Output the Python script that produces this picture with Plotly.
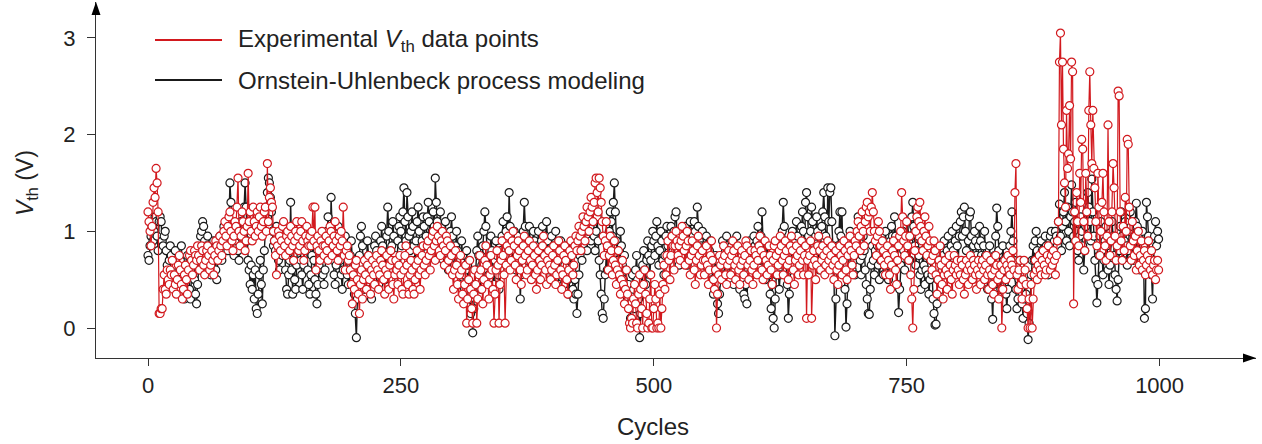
import numpy as np
import plotly.graph_objects as go

# Threshold voltage values, in units of 0.01 V (centivolts), one value per cycle 0..999
exp_vth_cV = [
120,110,100,85,105,130,145,135,165,150,120,15,15,20,20,40,55,40,35,60,50,45,60,55,70,
40,55,45,35,50,65,75,60,45,30,40,55,65,50,35,60,75,80,70,55,65,80,75,70,85,
75,60,70,85,80,65,55,70,80,85,75,60,65,80,70,55,75,90,85,70,80,95,85,75,90,
100,110,95,85,105,115,120,100,90,80,95,110,105,125,155,100,85,95,120,110,100,80,90,105,160,
110,120,100,90,125,110,95,105,120,100,115,125,105,95,110,120,125,100,170,110,135,145,130,125,100,
90,75,55,85,100,95,80,90,105,110,85,75,95,100,90,80,105,95,85,70,90,100,110,95,80,
85,100,110,90,70,80,95,105,90,85,95,85,100,125,90,125,60,85,95,80,70,90,100,85,75,
85,95,80,70,90,105,100,75,85,95,110,90,80,70,95,85,100,90,125,75,60,80,85,70,75,
60,45,25,55,40,65,70,50,35,15,45,60,30,50,70,55,40,65,75,50,35,60,70,55,45,
65,75,60,40,55,70,80,65,50,35,60,75,55,40,65,80,70,45,30,55,70,60,45,65,75,
55,40,35,60,75,85,65,45,35,55,70,60,40,35,50,65,80,70,55,40,60,75,85,65,55,
70,85,90,75,60,80,95,100,85,70,90,105,95,80,75,90,100,85,65,80,95,90,70,60,85,
75,55,40,60,80,65,45,30,55,75,60,35,25,45,65,5,30,50,70,40,20,5,35,60,45,
5,30,55,75,60,40,25,50,70,85,65,45,30,55,75,60,40,5,35,60,80,65,5,45,70,
90,75,55,5,65,85,95,80,60,70,90,100,85,65,50,75,90,80,60,45,70,85,95,75,55,
60,80,90,70,50,65,85,75,55,40,60,80,70,50,65,85,95,75,60,45,70,80,65,50,60,
75,85,65,45,55,70,90,80,60,40,55,75,85,70,50,35,60,80,90,75,55,65,85,95,80,
90,105,95,80,100,115,105,90,110,125,115,100,120,135,125,110,130,150,155,140,120,155,145,130,110,
95,75,90,110,85,60,75,95,80,55,70,90,65,45,60,80,55,35,50,70,45,25,40,60,35,
20,5,0,10,5,30,45,25,5,0,35,55,40,20,0,45,60,35,15,0,5,30,55,0,0,
20,45,30,0,5,0,35,0,20,45,65,40,55,75,90,70,50,75,95,85,60,85,100,90,75,
85,70,90,105,95,80,65,85,100,90,70,55,75,90,80,60,45,70,85,95,75,55,65,80,70,
55,70,85,65,45,60,75,90,70,50,40,60,0,35,55,75,65,50,70,85,75,55,45,65,80,
70,55,75,90,80,65,50,70,85,60,45,65,80,70,55,75,90,85,65,50,70,80,60,45,65,
80,75,55,70,85,95,80,60,50,75,90,70,55,65,85,75,60,45,70,85,90,75,55,65,80,
95,85,70,55,75,90,80,65,50,70,85,95,80,60,45,70,85,75,55,65,80,90,70,55,75,
85,10,70,55,75,90,10,65,80,70,50,65,85,95,80,60,70,85,75,55,65,80,90,70,60,
75,85,65,50,70,80,60,45,65,85,75,55,70,90,80,60,50,75,85,95,80,65,55,75,90,
85,100,110,95,80,105,120,100,85,110,125,130,115,120,100,125,140,120,100,90,75,95,110,100,85,
70,90,80,65,55,75,85,70,55,40,65,80,90,75,60,45,70,85,95,100,140,115,90,75,95,
110,85,70,95,55,30,0,40,80,100,115,125,110,130,105,90,80,100,115,95,75,85,105,90,70,
60,75,90,80,55,35,50,70,85,65,45,30,55,70,60,40,55,75,65,50,35,60,75,65,55,
70,60,45,55,70,65,50,35,55,70,60,45,65,75,60,50,70,65,55,40,60,70,55,45,65,
70,60,50,65,75,55,40,60,70,55,45,35,60,75,65,50,30,55,65,0,40,60,70,50,65,
75,60,55,70,65,80,60,140,170,55,40,60,70,45,30,50,70,60,45,20,0,30,0,45,0,
30,55,70,60,50,65,75,60,55,70,80,65,55,60,75,85,70,60,75,65,80,70,55,75,90,
110,275,305,210,275,185,150,125,225,165,180,230,175,275,265,25,120,90,140,110,85,160,130,195,185,
110,80,160,120,95,225,265,210,170,225,165,145,110,85,160,125,75,100,130,160,120,85,70,95,210,
110,75,90,120,170,145,95,70,85,245,240,120,90,70,105,80,135,100,195,190,125,85,70,110,90,
75,95,60,80,100,65,75,90,60,70,80,55,65,75,90,70,60,80,55,65,70,50,60,70,60,
]

ou_model_cV = [
75,70,85,95,105,90,100,115,110,95,80,110,115,110,90,85,95,100,80,65,55,70,85,75,60,
50,65,80,70,55,40,50,70,85,60,45,30,45,65,75,55,40,30,55,70,60,50,35,25,45,
60,80,95,100,110,105,90,75,85,95,80,70,55,65,80,90,75,60,50,70,85,95,80,70,90,
105,95,85,100,80,110,150,130,95,85,75,90,105,100,80,70,95,110,100,85,125,150,125,90,70,
60,45,65,40,55,30,60,20,15,35,55,70,45,25,60,80,110,125,140,155,150,135,120,100,85,
90,80,105,95,70,60,85,100,75,95,80,60,40,35,55,70,130,60,35,70,50,40,65,90,80,
95,70,55,40,65,85,100,80,60,45,35,55,75,90,70,50,35,25,45,65,80,95,75,55,45,
60,80,100,115,95,75,135,90,70,55,45,65,85,105,90,70,55,40,60,80,95,75,55,45,60,
75,90,70,50,35,15,-10,30,55,75,95,105,85,60,40,55,70,90,75,55,40,30,50,70,85,
95,80,60,45,70,90,105,85,65,50,75,95,125,100,80,60,85,110,95,75,55,70,90,105,115,
100,85,120,145,110,90,140,115,95,80,100,120,105,85,70,90,110,125,100,80,65,90,115,105,85,
95,115,130,110,90,75,100,120,105,155,130,110,90,100,120,95,80,70,95,110,85,70,60,80,100,
115,95,80,65,85,100,80,60,45,70,90,75,55,40,60,80,65,45,30,15,35,-5,20,45,60,
80,95,75,55,40,65,85,100,120,105,80,65,55,75,95,80,60,45,70,90,75,55,40,60,80,
95,110,90,75,100,115,90,140,105,80,65,85,100,80,60,75,95,70,30,55,80,100,130,105,85,
70,90,105,85,65,80,100,90,75,60,85,100,80,65,90,105,85,70,95,110,90,75,60,80,95,
80,65,85,100,75,60,45,70,90,80,60,45,65,85,70,50,35,55,75,60,40,30,50,35,15,
35,55,75,90,70,85,100,110,95,80,100,115,105,90,120,110,95,80,100,115,90,70,55,35,15,
10,30,55,75,60,85,100,120,110,95,130,150,120,90,70,55,80,100,85,65,50,75,60,40,30,
45,25,10,35,55,40,20,60,75,50,30,-10,15,40,65,80,60,45,70,90,75,55,70,85,100,
90,75,95,110,85,65,80,100,90,70,55,75,95,105,85,70,90,105,95,80,100,115,120,95,80,
65,85,100,90,75,95,105,80,65,85,100,110,90,75,95,110,100,85,125,105,90,70,85,100,80,
65,85,95,75,60,80,90,70,50,35,60,75,45,25,15,35,55,75,90,70,55,80,95,85,65,
50,70,85,65,45,60,80,95,75,55,40,60,75,50,35,30,45,25,55,75,90,70,55,80,95,
85,70,90,105,85,70,95,120,90,70,50,65,85,75,55,35,20,45,10,0,30,55,75,60,40,
55,80,100,130,105,85,70,45,10,35,60,85,100,80,65,90,110,95,75,60,85,105,120,100,80,
130,140,115,95,80,100,125,110,90,75,95,115,100,80,60,85,105,120,140,115,95,80,145,110,140,
145,110,85,60,-8,30,60,85,100,120,95,120,75,55,40,1,25,55,80,100,75,60,85,70,55,
75,95,115,90,70,55,75,95,80,60,45,30,15,14,40,65,85,70,55,80,100,85,65,50,70,
90,75,55,80,100,85,65,50,70,90,105,95,80,115,95,70,45,16,40,65,85,100,80,60,75,
95,110,90,70,95,115,130,105,85,65,80,95,75,55,40,60,80,65,45,60,75,55,35,50,70,
55,30,15,3,4,25,50,70,55,40,60,75,90,70,55,80,95,75,60,85,100,80,65,90,105,
85,70,95,110,120,95,115,125,100,80,65,90,115,120,95,70,85,100,90,75,60,85,105,90,75,
60,85,100,75,55,40,65,85,60,30,9,45,75,95,124,105,80,55,40,60,85,70,50,35,20,
40,65,85,100,120,90,70,55,40,20,30,50,70,45,25,10,30,55,35,15,-12,5,30,55,70,
85,70,90,100,80,65,55,75,90,80,60,75,95,85,70,55,80,95,100,85,75,90,100,95,85,
110,128,95,80,105,120,140,110,90,125,100,85,115,148,120,95,110,130,100,80,70,95,115,100,85,
60,80,105,120,140,125,110,90,154,120,95,70,50,26,45,75,95,110,80,55,70,90,105,85,60,
45,65,90,110,95,75,55,40,28,50,80,105,120,95,70,90,110,85,65,80,100,120,105,85,70,
95,110,129,105,90,75,60,80,100,85,10,20,130,115,95,75,60,55,30,70,95,110,85,100,92,
]

x_ticks = [0, 250, 500, 750, 1000]
y_ticks = [0, 1, 2, 3]
legend_labels = ["Experimental <i>V</i><sub>th</sub> data points",
                 "Ornstein-Uhlenbeck process modeling"]

exp_vth = np.array(exp_vth_cV) / 100.0
ou_model = np.array(ou_model_cV) / 100.0
cyc_exp = np.arange(len(exp_vth))
cyc_ou = np.arange(len(ou_model))

RED = "#d2191e"
BLACK = "#1a1a1a"
FONT = "Arial, Liberation Sans, Helvetica, sans-serif"
TXT = "#222"

fig = go.Figure()
fig.add_trace(go.Scatter(
    x=cyc_ou, y=ou_model, mode="lines+markers", name=legend_labels[1],
    line=dict(color=BLACK, width=1.4),
    marker=dict(symbol="circle", size=8, color="white",
                line=dict(color=BLACK, width=1.2)),
    showlegend=False))
fig.add_trace(go.Scatter(
    x=cyc_exp, y=exp_vth, mode="lines+markers", name=legend_labels[0],
    line=dict(color=RED, width=1.2),
    marker=dict(symbol="circle", size=8, color="white",
                line=dict(color=RED, width=1.2)),
    showlegend=False))

# plot area geometry (px): x 96..1256, y 2..358
L, R, T, B = 96, 1256, 2, 358
W, H = R - L, B - T
def px(xp):
    return (xp - L) / W
def py(yp):
    return (B - yp) / H

shapes = []
# arrowheads of the axes
shapes.append(dict(type="path", xref="paper", yref="paper",
                   path=f"M {px(1256)} {py(358)} L {px(1243)} {py(353.5)} L {px(1243)} {py(362.5)} Z",
                   fillcolor="black", line=dict(color="black", width=0)))
shapes.append(dict(type="path", xref="paper", yref="paper",
                   path=f"M {px(96)} {py(2)} L {px(91.5)} {py(15)} L {px(100.5)} {py(15)} Z",
                   fillcolor="black", line=dict(color="black", width=0)))
# manual legend lines
shapes.append(dict(type="line", xref="paper", yref="paper",
                   x0=px(155), x1=px(222), y0=py(40), y1=py(40),
                   line=dict(color=RED, width=2)))
shapes.append(dict(type="line", xref="paper", yref="paper",
                   x0=px(155), x1=px(222), y0=py(80), y1=py(80),
                   line=dict(color=BLACK, width=2)))

annotations = [
    dict(x=px(236), y=py(40), xref="paper", yref="paper", text=legend_labels[0],
         showarrow=False, xanchor="left", yanchor="middle",
         font=dict(family=FONT, size=24, color=TXT)),
    dict(x=px(236), y=py(80), xref="paper", yref="paper", text=legend_labels[1],
         showarrow=False, xanchor="left", yanchor="middle",
         font=dict(family=FONT, size=24, color=TXT)),
    dict(x=px(653), y=py(426), xref="paper", yref="paper", text="Cycles",
         showarrow=False, xanchor="center", yanchor="middle",
         font=dict(family=FONT, size=24, color=TXT)),
    dict(x=px(26), y=py(183), xref="paper", yref="paper",
         text="<i>V</i><sub>th</sub> (V)", textangle=-90,
         showarrow=False, xanchor="center", yanchor="middle",
         font=dict(family=FONT, size=23, color=TXT)),
]

x0_val = (L - 148) / 1.0116
x1_val = (R - 148) / 1.0116
y0_val = (328 - B) / 96.7
y1_val = (328 - T) / 96.7

fig.update_layout(
    width=1262, height=444,
    margin=dict(l=L, r=1262 - R, t=T, b=444 - B),
    paper_bgcolor="white", plot_bgcolor="white",
    shapes=shapes, annotations=annotations,
    font=dict(family=FONT, size=22, color=TXT),
    xaxis=dict(range=[x0_val, x1_val], tickvals=x_ticks, ticks="outside",
               ticklen=7, tickwidth=1, tickcolor="#333", automargin=False,
               showline=True, linecolor="#333", linewidth=1.2,
               showgrid=False, zeroline=False,
               tickfont=dict(family=FONT, size=22, color=TXT)),
    yaxis=dict(range=[y0_val, y1_val], tickvals=y_ticks, ticks="outside",
               ticklen=8, tickwidth=1, tickcolor="#333", automargin=False,
               ticklabelstandoff=7,
               showline=True, linecolor="#333", linewidth=1.2,
               showgrid=False, zeroline=False,
               tickfont=dict(family=FONT, size=22, color=TXT)),
    showlegend=False,
)

fig.write_html("out.html", config={"displayModeBar": False},
               post_script="document.body.style.margin='0';document.body.style.padding='0';")
